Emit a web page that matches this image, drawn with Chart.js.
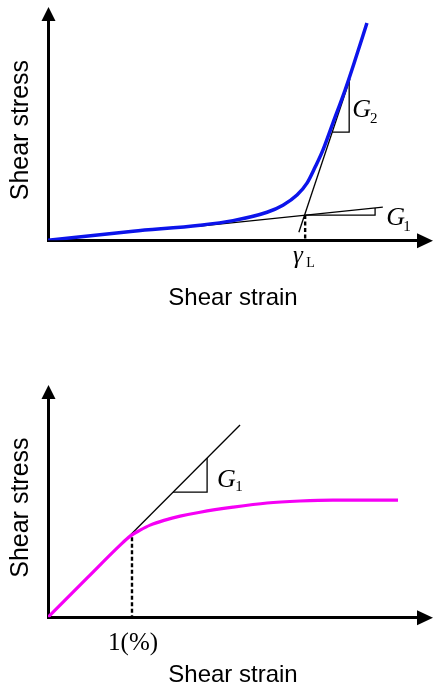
<!DOCTYPE html>
<html lang="en">
<head>
  <meta charset="UTF-8" />
  <title>Shear stress - shear strain</title>
  <script src="https://cdn.jsdelivr.net/npm/chart.js"></script>
  <style>
    body { margin: 0; background: #fff; }
    canvas { display: block; }
  </style>
</head>
<body>

  <canvas id="upperChart" width="433" height="345"></canvas>
  <canvas id="lowerChart" width="433" height="345"></canvas>

<script>
// axis units: 0-100 along each drawn axis (origin at 0,0)

// upper figure: stiffening curve
const upperStrain = [0, 23.0, 41.1, 50.0, 59.2, 63.5, 67.3, 70.0, 72.2, 74.3, 77.0, 80.3, 83.0, 86.2];
const upperStress = [0, 4.1, 6.8, 8.9, 12.7, 15.9, 20.5, 25.9, 33.2, 40.9, 53.2, 68.2, 81.8, 98.6];
const upperG1Line = [[41.1, 6.4], [90.5, 15.0]];
const upperG1Step = [[69.5, 11.4], [88.4, 11.4], [88.4, 14.6]];
const upperG2Line = [[67.8, 3.6], [81.6, 73.2]];
const upperG2Step = [[76.8, 49.1], [81.4, 49.1], [81.4, 71.8]];
const upperYieldMark = [[69.5, 11.4], [69.5, 0]];

// lower figure: softening curve
const lowerStrain = [0, 10.8, 19.5, 22.2, 24.9, 27.6, 31.6, 35.7, 41.1, 50.0, 59.2, 68.1, 77.0, 94.6];
const lowerStress = [0, 18.3, 32.9, 37.0, 39.7, 42.0, 44.3, 46.1, 47.9, 50.2, 52.1, 53.0, 53.4, 53.4];
const lowerG1Line = [[22.2, 37.4], [51.9, 87.7]];
const lowerG1Step = [[33.8, 57.1], [43.0, 57.1], [43.0, 72.6]];
const lowerOnePercent = [[22.7, 36.5], [22.7, 0]];

const SERIF = '"Liberation Serif", "Times New Roman", serif';
const SANS = '"Liberation Sans", Arial, sans-serif';

const upperLabels = [
  { text: 'G', x: 82.2, y: 55.9, font: 'italic 26px ' + SERIF },
  { text: '2', x: 87.0, y: 53.4, font: '15px ' + SERIF },
  { text: 'G', x: 91.4, y: 6.8, font: 'italic 26px ' + SERIF },
  { text: '1', x: 96.0, y: 4.4, font: '15px ' + SERIF },
  { text: 'γ', x: 66.2, y: -10.3, font: 'italic 25px ' + SERIF },
  { text: 'L', x: 69.8, y: -12.2, font: '14px ' + SERIF }
];
const lowerLabels = [
  { text: 'G', x: 45.7, y: 59.4, font: 'italic 26px ' + SERIF },
  { text: '1', x: 50.6, y: 57.6, font: '15px ' + SERIF },
  { text: '1(%)', x: 23.0, y: -15.1, font: '25px ' + SERIF, align: 'center' }
];

function pairs(xs, ys) {
  return xs.map((v, i) => ({ x: v, y: ys[i] }));
}
function pts(list) {
  return list.map(p => ({ x: p[0], y: p[1] }));
}

function thinLine(data, dash) {
  return {
    data: pts(data),
    borderColor: '#000',
    borderWidth: dash ? 2.4 : 1.3,
    borderDash: dash ? [4, 2.5] : [],
    tension: 0
  };
}

// arrow heads on the two axes
const arrowPlugin = {
  id: 'arrows',
  afterDraw(chart) {
    const { ctx, chartArea, scales } = chart;
    const x0 = scales.x.getPixelForValue(0) + 0.5;
    const y0 = scales.y.getPixelForValue(0) + 0.5;
    ctx.save();
    ctx.fillStyle = '#000';
    ctx.beginPath();
    ctx.moveTo(x0, chartArea.top - 13);
    ctx.lineTo(x0 - 7, chartArea.top + 1);
    ctx.lineTo(x0 + 7, chartArea.top + 1);
    ctx.closePath();
    ctx.fill();
    ctx.beginPath();
    ctx.moveTo(chartArea.right + 15, y0);
    ctx.lineTo(chartArea.right - 1, y0 - 7.5);
    ctx.lineTo(chartArea.right - 1, y0 + 7.5);
    ctx.closePath();
    ctx.fill();
    ctx.restore();
  }
};

function labelPlugin(items) {
  return {
    id: 'annotations',
    afterDatasetsDraw(chart) {
      const { ctx, scales: { x, y } } = chart;
      ctx.save();
      ctx.fillStyle = '#000';
      ctx.textBaseline = 'alphabetic';
      items.forEach(it => {
        ctx.font = it.font;
        ctx.textAlign = it.align || 'left';
        ctx.fillText(it.text, x.getPixelForValue(it.x), y.getPixelForValue(it.y));
      });
      ctx.restore();
    }
  };
}

function axisOptions(padding, xTitlePad) {
  return {
    responsive: false,
    animation: false,
    events: [],
    layout: { padding: padding },
    elements: { point: { radius: 0 } },
    datasets: { scatter: { showLine: true, fill: false } },
    plugins: { legend: { display: false }, tooltip: { enabled: false } },
    scales: {
      x: {
        type: 'linear', min: 0, max: 100,
        ticks: { display: false },
        grid: { display: false, drawTicks: false },
        border: { display: true, width: 3, color: '#000' },
        title: {
          display: true, text: 'Shear strain', color: '#000',
          font: { family: SANS, size: 24 },
          padding: { top: xTitlePad, bottom: 0 }
        }
      },
      y: {
        type: 'linear', min: 0, max: 100,
        ticks: { display: false },
        grid: { display: false, drawTicks: false },
        border: { display: true, width: 3, color: '#000' },
        title: {
          display: true, text: 'Shear stress', color: '#000',
          font: { family: SANS, size: 25 },
          padding: { top: 6, bottom: 12 }
        }
      }
    }
  };
}

new Chart(document.getElementById('upperChart'), {
  type: 'scatter',
  data: {
    datasets: [
      {
        data: pairs(upperStrain, upperStress),
        borderColor: 'rgb(12, 20, 235)',
        borderWidth: 3.5,
        cubicInterpolationMode: 'monotone'
      },
      thinLine(upperG1Line),
      thinLine(upperG1Step),
      thinLine(upperG2Line),
      thinLine(upperG2Step),
      thinLine(upperYieldMark, true)
    ]
  },
  options: axisOptions({ top: 20, right: 15, bottom: 32, left: 0 }, 44),
  plugins: [arrowPlugin, labelPlugin(upperLabels)]
});

new Chart(document.getElementById('lowerChart'), {
  type: 'scatter',
  data: {
    datasets: [
      {
        data: pairs(lowerStrain, lowerStress),
        borderColor: 'rgb(245, 0, 245)',
        borderWidth: 3.2,
        cubicInterpolationMode: 'monotone'
      },
      thinLine(lowerG1Line),
      thinLine(lowerG1Step),
      thinLine(lowerOnePercent, true)
    ]
  },
  options: axisOptions({ top: 53, right: 15, bottom: 0, left: 0 }, 44),
  plugins: [arrowPlugin, labelPlugin(lowerLabels)]
});
</script>

</body>
</html>
